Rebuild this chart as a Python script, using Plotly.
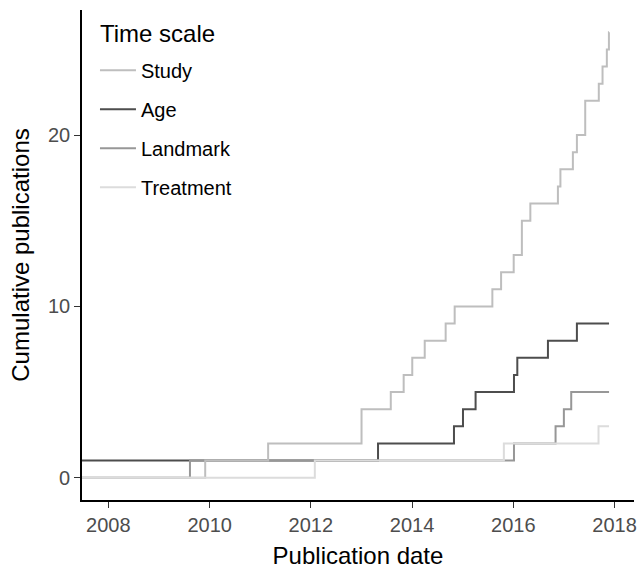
import plotly.graph_objects as go

# ---- data ----
x_start = "2007-01-01"   # series begin before the visible range
x_end = "2017-11-22"     # last observation date (all series)

age_dates = ["2013-04-30", "2014-10-30", "2015-01-03", "2015-04-04", "2016-01-06",
             "2016-01-30", "2016-09-07", "2017-04-04"]
age_counts = [2, 3, 4, 5, 6, 7, 8, 9]
age_initial = 1

landmark_dates = ["2009-08-12", "2016-01-06", "2016-11-01", "2016-12-31", "2017-02-22"]
landmark_counts = [1, 2, 3, 4, 5]
landmark_initial = 0

study_dates = ["2009-11-30", "2011-02-27", "2013-01-01", "2013-07-31", "2013-11-01",
               "2014-01-02", "2014-04-02", "2014-08-31", "2014-11-04", "2015-08-03",
               "2015-10-05", "2016-01-04", "2016-03-03", "2016-05-03", "2016-11-18",
               "2016-12-06", "2017-03-06", "2017-04-04", "2017-06-03", "2017-09-09",
               "2017-10-06", "2017-11-06", "2017-11-21"]
study_counts = [1, 2, 4, 5, 6, 7, 8, 9, 10, 11, 12, 13, 15, 16, 17, 18, 19, 20,
                22, 23, 24, 25, 26]
study_initial = 0

treatment_dates = ["2012-01-30", "2015-10-25", "2017-09-07"]
treatment_counts = [1, 2, 3]
treatment_initial = 0

x_ticks = ["2008-01-01", "2010-01-01", "2012-01-01", "2014-01-01", "2016-01-01", "2018-01-01"]
x_ticklabels = ["2008", "2010", "2012", "2014", "2016", "2018"]
y_ticks = [0, 10, 20]

# ---- styles ----
FONT = "Liberation Sans, Arial, Helvetica, sans-serif"
series = [
    # (name, dates, counts, initial, color, legend rank) -- drawn in alphabetical order
    ("Age", age_dates, age_counts, age_initial, "#4D4D4D", 2),
    ("Landmark", landmark_dates, landmark_counts, landmark_initial, "#979797", 3),
    ("Study", study_dates, study_counts, study_initial, "#BEBEBE", 1),
    ("Treatment", treatment_dates, treatment_counts, treatment_initial, "#DCDCDC", 4),
]

fig = go.Figure()
for name, dates, counts, init, color, rank in series:
    xs = [x_start] + dates + [x_end]
    ys = [init] + counts + [counts[-1]]
    fig.add_trace(go.Scatter(
        x=xs, y=ys, mode="lines", name=name,
        line=dict(color=color, width=2, shape="hv"),
        legendrank=rank, legendgroup=name,
    ))

fig.update_layout(
    width=638, height=570,
    margin=dict(l=82, r=4, t=10, b=70),
    paper_bgcolor="white", plot_bgcolor="white",
    font=dict(family=FONT, color="black"),
    showlegend=True,
    legend=dict(
        font=dict(size=20, color="black"),
        x=0.0235, y=0.917, xanchor="left", yanchor="top",
        bgcolor="rgba(0,0,0,0)", tracegroupgap=10, itemwidth=36,
    ),
    annotations=[dict(
        text="Time scale", xref="paper", yref="paper",
        x=0.029, y=0.953, xanchor="left", yanchor="middle",
        showarrow=False, font=dict(size=24, color="black"),
    )],
)
fig.update_xaxes(
    type="date", range=["2007-06-25", "2018-05-21"],
    tickvals=x_ticks, ticktext=x_ticklabels,
    showline=True, linecolor="black", linewidth=1.6,
    ticks="outside", ticklen=6, tickwidth=1.4, tickcolor="#333333",
    tickfont=dict(size=20, color="#4D4D4D"),
    showgrid=False, zeroline=False, automargin=False,
    title=dict(text="Publication date", font=dict(size=24, color="black"), standoff=12),
)
fig.update_yaxes(
    range=[-1.3, 27.3], tickvals=y_ticks,
    showline=True, linecolor="black", linewidth=1.6,
    ticks="outside", ticklen=6, tickwidth=1.4, tickcolor="#333333",
    tickfont=dict(size=20, color="#4D4D4D"),
    showgrid=False, zeroline=False, automargin=False,
    title=dict(text="Cumulative publications", font=dict(size=24, color="black"), standoff=12),
)

fig.write_html("out.html", config={"displayModeBar": False},
               post_script="document.body.style.margin='0';")
